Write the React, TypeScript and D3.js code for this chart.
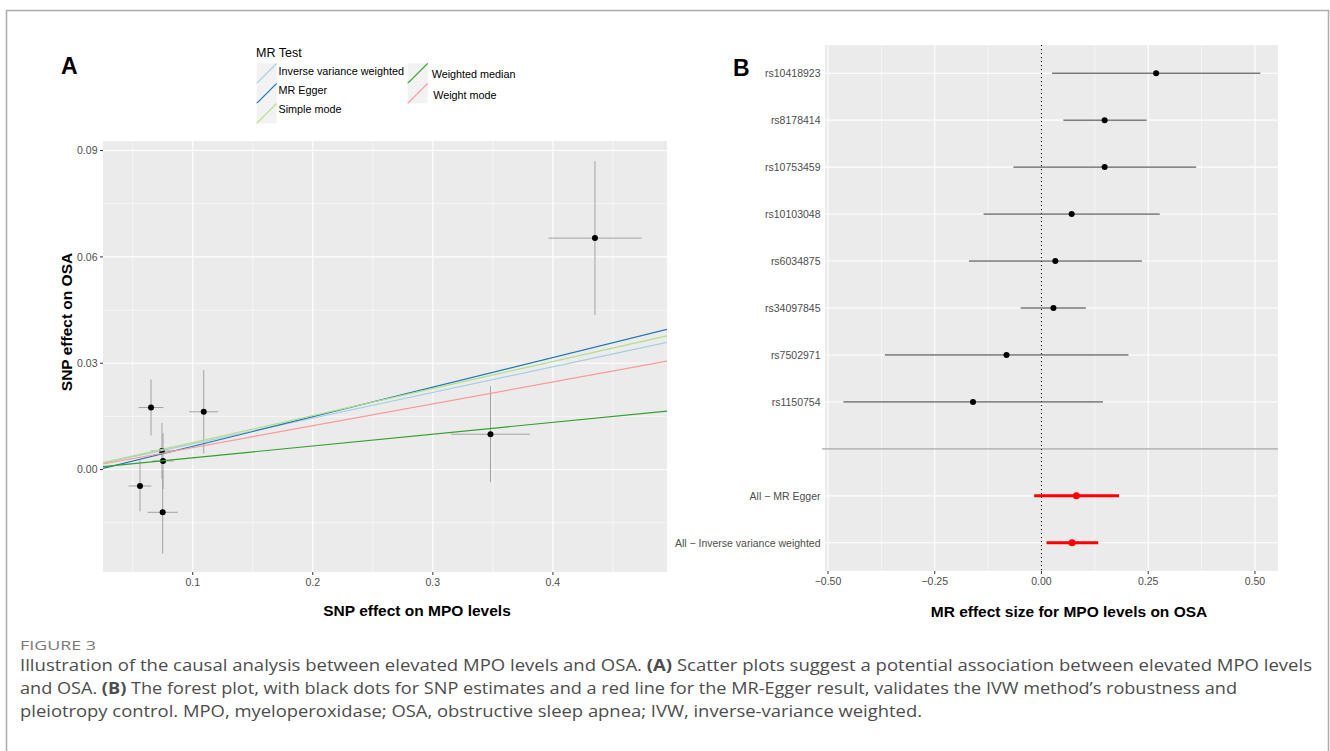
import React from 'react';
import * as d3 from 'd3';

// ---------- Panel A data (SNP effects) ----------
const snpBetaExposure = [0.0744, 0.0753, 0.0561, 0.075, 0.0653, 0.1092, 0.348, 0.435];
const snpSeExposure = [0.009, 0.0088, 0.0096, 0.0126, 0.0103, 0.0121, 0.033, 0.0388];
const snpBetaOutcome = [0.00525, 0.00243, -0.00463, -0.01206, 0.0175, 0.0163, 0.00997, 0.0653];
const snpSeOutcome = [0.00785, 0.0079, 0.0072, 0.01166, 0.0079, 0.01176, 0.01355, 0.0217];

const methods = ['Inverse variance weighted', 'MR Egger', 'Simple mode', 'Weighted median', 'Weight mode'];
const methodSlopes = [0.0725, 0.0835, 0.0762, 0.0333, 0.0618];
const methodIntercepts = [0, -0.0018, 0, 0, 0];
const methodColors = ['#a6cee3', '#1f78b4', '#b2df8a', '#33a02c', '#fb9a99'];

const xTicksA = [0.1, 0.2, 0.3, 0.4];
const xMinorA = [0.05, 0.15, 0.25, 0.35, 0.45];
const yTicksA = [0, 0.03, 0.06, 0.09];
const yMinorA = [-0.015, 0.015, 0.045, 0.075];

// ---------- Panel B data (forest) ----------
const snpNames = ['rs10418923', 'rs8178414', 'rs10753459', 'rs10103048', 'rs6034875', 'rs34097845', 'rs7502971', 'rs1150754'];
const snpEst = [0.2686, 0.148, 0.148, 0.0708, 0.0324, 0.0281, -0.0819, -0.1603];
const snpLo = [0.0247, 0.0512, -0.0657, -0.1356, -0.1697, -0.0486, -0.3666, -0.4638];
const snpHi = [0.5125, 0.2464, 0.3624, 0.2771, 0.2353, 0.104, 0.2038, 0.1441];

const summaryNames = ['All \u2212 MR Egger', 'All \u2212 Inverse variance weighted'];
const summaryEst = [0.0819, 0.0716];
const summaryLo = [-0.0171, 0.0119];
const summaryHi = [0.1816, 0.133];

const xTicksB = [-0.5, -0.25, 0, 0.25, 0.5];
const xMinorB = [-0.375, -0.125, 0.125, 0.375];

const FONT = '"Liberation Sans", Arial, Helvetica, sans-serif';
const CAP_FONT = '"Open Sans", "Noto Sans", sans-serif';

export default function App() {
  // Panel A scales
  const xA = d3.scaleLinear().domain([0.0253, 0.495]).range([103, 667]);
  const yA = d3.scaleLinear().domain([-0.0289, 0.0927]).range([572, 141]);
  const [ax0, ax1] = xA.range();
  const [ay1, ay0] = yA.range();
  const fA1 = d3.format('.1f');
  const fA2 = d3.format('.2f');

  // Panel B scales
  const xB = d3.scaleLinear().domain([-0.507, 0.554]).range([825, 1278]);
  const rows = [...snpNames, '__blank__', ...summaryNames];
  const yB = d3.scalePoint<string>().domain(rows).range([45, 571]).padding(0.6);
  const [bx0, bx1] = xB.range();
  const by0 = 45, by1 = 571;
  const fB = d3.format('.2f');

  const tickColor = '#4d4d4d';
  const ticksCol = '#333333';

  const legendCol1 = [0, 1, 2];
  const legendCol2 = [3, 4];

  return (
    <svg width={1330} height={751} style={{ position: 'absolute', left: 0, top: 0, background: '#fff' }} fontFamily={FONT}>
      {/* outer frame */}
      <path d="M6.5,760 L6.5,10.5 L1328.5,10.5 L1328.5,760" fill="none" stroke="#acacac" strokeWidth={1.5} />

      {/* ================= Panel A ================= */}
      <text x={61} y={74} fontSize={23} fontWeight="bold" fill="#000">A</text>

      {/* legend */}
      <text x={256} y={56.5} fontSize={12.5} fill="#000">MR Test</text>
      {legendCol1.map((m, i) => {
        const kx = 256.7, ky = 63.3 + i * 20;
        return (
          <g key={'l1' + m}>
            <rect x={kx} y={ky} width={20} height={20} fill="#f2f2f2" />
            <line x1={kx} y1={ky + 20} x2={kx + 20} y2={ky} stroke={methodColors[m]} strokeWidth={1.2} />
            <text x={278.5} y={ky + 13.2 - (i === 0 ? 1.5 : i === 1 ? 2.5 : 3.5)} fontSize={10.8} fill="#000">{methods[m]}</text>
          </g>
        );
      })}
      {legendCol2.map((m, i) => {
        const kx = 407.7, ky = 63.3 + i * 20;
        return (
          <g key={'l2' + m}>
            <rect x={kx} y={ky} width={20} height={20} fill="#f2f2f2" />
            <line x1={kx} y1={ky + 20} x2={kx + 20} y2={ky} stroke={methodColors[m]} strokeWidth={1.2} />
            <text x={431.7 + i * 1.5} y={ky + 14.4 + i * 1} fontSize={10.8} fill="#000">{methods[m]}</text>
          </g>
        );
      })}

      {/* panel background */}
      <rect x={ax0} y={ay0} width={ax1 - ax0} height={ay1 - ay0} fill="#ebebeb" />
      {xMinorA.map(v => (
        <line key={'xm' + v} x1={xA(v)} x2={xA(v)} y1={ay0} y2={ay1} stroke="#fff" strokeWidth={0.55} />
      ))}
      {yMinorA.map(v => (
        <line key={'ym' + v} x1={ax0} x2={ax1} y1={yA(v)} y2={yA(v)} stroke="#fff" strokeWidth={0.55} />
      ))}
      {xTicksA.map(v => (
        <line key={'xg' + v} x1={xA(v)} x2={xA(v)} y1={ay0} y2={ay1} stroke="#fff" strokeWidth={1.1} />
      ))}
      {yTicksA.map(v => (
        <line key={'yg' + v} x1={ax0} x2={ax1} y1={yA(v)} y2={yA(v)} stroke="#fff" strokeWidth={1.1} />
      ))}

      {/* error bars */}
      {snpBetaExposure.map((bx, i) => {
        const by = snpBetaOutcome[i];
        return (
          <g key={'eb' + i} stroke="#a3a3a3" strokeWidth={1}>
            <line x1={xA(bx)} x2={xA(bx)} y1={yA(by - snpSeOutcome[i])} y2={yA(by + snpSeOutcome[i])} />
            <line x1={xA(bx - snpSeExposure[i])} x2={xA(bx + snpSeExposure[i])} y1={yA(by)} y2={yA(by)} />
          </g>
        );
      })}
      {snpBetaExposure.map((bx, i) => (
        <circle key={'pt' + i} cx={xA(bx)} cy={yA(snpBetaOutcome[i])} r={3} fill="#000" />
      ))}

      {/* MR lines */}
      <clipPath id="clipA">
        <rect x={ax0} y={ay0} width={ax1 - ax0} height={ay1 - ay0} />
      </clipPath>
      <g clipPath="url(#clipA)">
        {methods.map((m, i) => {
          const [d0, d1] = xA.domain();
          return (
            <line key={'ml' + m} x1={xA(d0)} x2={xA(d1)}
              y1={yA(methodIntercepts[i] + methodSlopes[i] * d0)}
              y2={yA(methodIntercepts[i] + methodSlopes[i] * d1)}
              stroke={methodColors[i]} strokeWidth={1.2} />
          );
        })}
      </g>

      {/* axes A */}
      {xTicksA.map(v => (
        <g key={'xt' + v}>
          <line x1={xA(v)} x2={xA(v)} y1={ay1} y2={ay1 + 3} stroke={ticksCol} strokeWidth={1} />
          <text x={xA(v)} y={586} fontSize={10.5} fill={tickColor} textAnchor="middle">{fA1(v)}</text>
        </g>
      ))}
      {yTicksA.map(v => (
        <g key={'yt' + v}>
          <line x1={ax0 - 3} x2={ax0} y1={yA(v)} y2={yA(v)} stroke={ticksCol} strokeWidth={1} />
          <text x={ax0 - 5.5} y={yA(v) + 3.7} fontSize={10.5} fill={tickColor} textAnchor="end">{fA2(v)}</text>
        </g>
      ))}
      <text x={417} y={616} fontSize={15.5} fontWeight="bold" textAnchor="middle" fill="#000">SNP effect on MPO levels</text>
      <text transform="translate(72,322) rotate(-90)" fontSize={15.5} fontWeight="bold" textAnchor="middle" fill="#000">SNP effect on OSA</text>

      {/* ================= Panel B ================= */}
      <text x={733} y={76} fontSize={23} fontWeight="bold" fill="#000">B</text>
      <rect x={bx0} y={by0} width={bx1 - bx0} height={by1 - by0} fill="#ebebeb" />
      {xMinorB.map(v => (
        <line key={'bm' + v} x1={xB(v)} x2={xB(v)} y1={by0} y2={by1} stroke="#fff" strokeWidth={0.55} />
      ))}
      {xTicksB.map(v => (
        <line key={'bg' + v} x1={xB(v)} x2={xB(v)} y1={by0} y2={by1} stroke="#fff" strokeWidth={1.1} />
      ))}
      {rows.filter(r => r !== '__blank__').map(r => (
        <line key={'bh' + r} x1={bx0} x2={bx1} y1={yB(r)!} y2={yB(r)!} stroke="#fff" strokeWidth={1.1} />
      ))}
      {/* separator */}
      <line x1={bx0 - 3} x2={bx1} y1={yB('__blank__')!} y2={yB('__blank__')!} stroke="#a8a8a8" strokeWidth={1.3} />
      {/* zero line */}
      <line x1={xB(0)} x2={xB(0)} y1={by0} y2={by1} stroke="#000" strokeWidth={1} strokeDasharray="1.2,2.8" />

      {snpNames.map((s, i) => (
        <g key={'fs' + s}>
          <line x1={xB(snpLo[i])} x2={xB(snpHi[i])} y1={yB(s)!} y2={yB(s)!} stroke="#3a3a3a" strokeWidth={1} />
          <circle cx={xB(snpEst[i])} cy={yB(s)!} r={3} fill="#000" />
        </g>
      ))}
      {summaryNames.map((s, i) => (
        <g key={'fm' + s}>
          <line x1={xB(summaryLo[i])} x2={xB(summaryHi[i])} y1={yB(s)!} y2={yB(s)!} stroke="#ff0000" strokeWidth={3} />
          <circle cx={xB(summaryEst[i])} cy={yB(s)!} r={3.5} fill="#ff0000" />
        </g>
      ))}

      {/* axes B */}
      {rows.filter(r => r !== '__blank__').map(r => (
        <text key={'by' + r} x={bx0 - 4.5} y={yB(r)! + 3.7} fontSize={10.5} fill={tickColor} textAnchor="end">{r}</text>
      ))}
      {xTicksB.map(v => (
        <g key={'bx' + v}>
          <line x1={xB(v)} x2={xB(v)} y1={by1} y2={by1 + 3} stroke={ticksCol} strokeWidth={1} />
          <text x={xB(v)} y={585} fontSize={10.5} fill={tickColor} textAnchor="middle">{fB(v)}</text>
        </g>
      ))}
      <text x={1069} y={617} fontSize={15.5} fontWeight="bold" textAnchor="middle" fill="#000">MR effect size for MPO levels on OSA</text>

      {/* ================= Caption ================= */}
      <g fontFamily={CAP_FONT}>
        <text x={20} y={650} fontSize={12.5} fill="#7a7a7a" textLength={76} lengthAdjust="spacingAndGlyphs">FIGURE 3</text>
        <text x={20} y={671} fontSize={16} fill="#4d4d4d" textLength={1292} lengthAdjust="spacingAndGlyphs">
          Illustration of the causal analysis between elevated MPO levels and OSA. <tspan fontWeight="bold">(A)</tspan> Scatter plots suggest a potential association between elevated MPO levels
        </text>
        <text x={20} y={694} fontSize={16} fill="#4d4d4d" textLength={1217} lengthAdjust="spacingAndGlyphs">
          and OSA. <tspan fontWeight="bold">(B)</tspan> The forest plot, with black dots for SNP estimates and a red line for the MR-Egger result, validates the IVW method’s robustness and
        </text>
        <text x={20} y={717} fontSize={16} fill="#4d4d4d" textLength={902} lengthAdjust="spacingAndGlyphs">
          pleiotropy control. MPO, myeloperoxidase; OSA, obstructive sleep apnea; IVW, inverse-variance weighted.
        </text>
      </g>
    </svg>
  );
}
